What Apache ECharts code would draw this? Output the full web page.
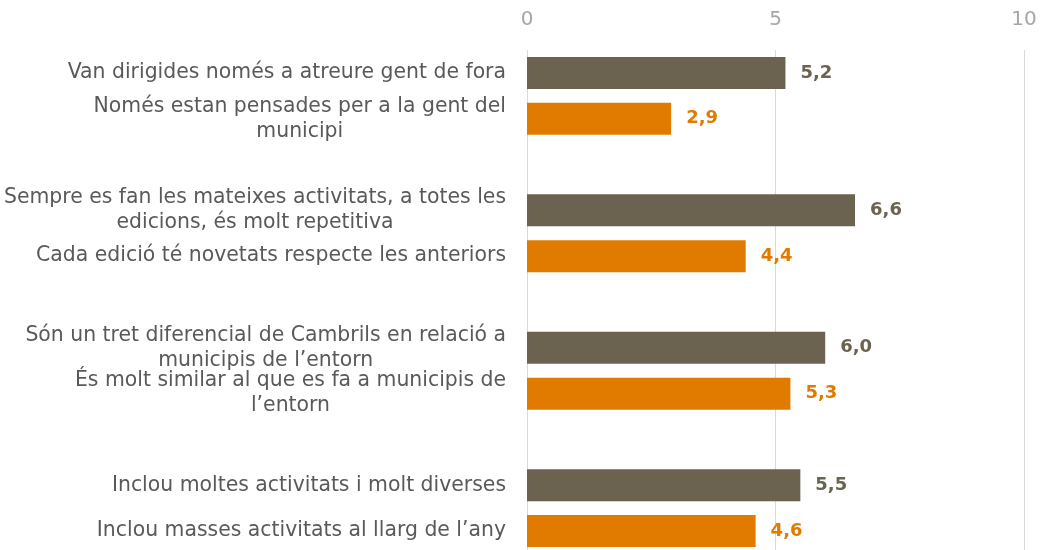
<!DOCTYPE html>
<html>
<head>
<meta charset="utf-8">
<script src="https://cdn.jsdelivr.net/npm/echarts@6/dist/echarts.min.js"></script>
<style>
  html, body { margin: 0; padding: 0; background: #fff; }
  #chart { width: 1050px; height: 550px; }
</style>
</head>
<body>
<div id="chart"></div>
<script>
// parells d'afirmacions (fosc = primera, taronja = segona)
const labelsA = [
  "Van dirigides només a atreure gent de fora",
  "Sempre es fan les mateixes activitats, a totes les\nedicions, és molt repetitiva",
  "Són un tret diferencial de Cambrils en relació a\nmunicipis de l’entorn",
  "Inclou moltes activitats i molt diverses"
]
const labelsB = [
  "Només estan pensades per a la gent del\nmunicipi",
  "Cada edició té novetats respecte les anteriors",
  "És molt similar al que es fa a municipis de\nl’entorn",
  "Inclou masses activitats al llarg de l’any"
]
const valuesA = [5.2, 6.6, 6.0, 5.5]
const valuesB = [2.9, 4.4, 5.3, 4.6]
const xTicks = [0, 5, 10]

const DARK = "#6b6250"
const ORANGE = "#e07b00"
const FONT = "DejaVu Sans"

// categories amb un buit entre grups
const categories = []
const dataA = []
const dataB = []
labelsA.forEach((l, i) => {
  if (i > 0) {
    categories.push(" ")
    dataA.push("-")
    dataB.push("-")
  }
  categories.push(l)
  dataA.push(valuesA[i])
  dataB.push("-")
  categories.push(labelsB[i])
  dataA.push("-")
  dataB.push(valuesB[i])
})

const fmt = (p) => Number(p.value).toFixed(1).replace(".", ",")

const chart = echarts.init(document.getElementById("chart"))
chart.setOption({
  animation: false,
  grid: { left: 527, right: 26, top: 50, height: 504, outerBoundsMode: "none", containLabel: false },
  xAxis: {
    type: "value",
    position: "top",
    min: xTicks[0],
    max: xTicks[xTicks.length - 1],
    interval: xTicks[1] - xTicks[0],
    axisLine: { show: false },
    axisTick: { show: false },
    splitLine: { lineStyle: { color: "#d9d9d9", width: 1 } },
    axisLabel: { color: "#a6a6a6", fontSize: 20, fontFamily: FONT, margin: 20 }
  },
  yAxis: {
    type: "category",
    inverse: true,
    data: categories,
    axisLine: { show: false },
    axisTick: { show: false },
    axisLabel: {
      margin: 21,
      align: "right",
      formatter: (v) => v.split("\n").map(s => "{c|" + s + "}").join("\n"),
      rich: {
        c: { align: "center", color: "#595959", fontSize: 20.4, fontFamily: FONT, lineHeight: 25 }
      }
    }
  },
  series: [
    {
      type: "bar",
      data: dataA,
      barWidth: 32,
      barGap: "-100%",
      itemStyle: { color: DARK },
      label: { show: true, position: "right", distance: 15, formatter: fmt, color: DARK, fontWeight: "bold", fontSize: 18, fontFamily: FONT }
    },
    {
      type: "bar",
      data: dataB,
      barWidth: 32,
      barGap: "-100%",
      itemStyle: { color: ORANGE },
      label: { show: true, position: "right", distance: 15, formatter: fmt, color: ORANGE, fontWeight: "bold", fontSize: 18, fontFamily: FONT }
    }
  ]
})
</script>
</body>
</html>
